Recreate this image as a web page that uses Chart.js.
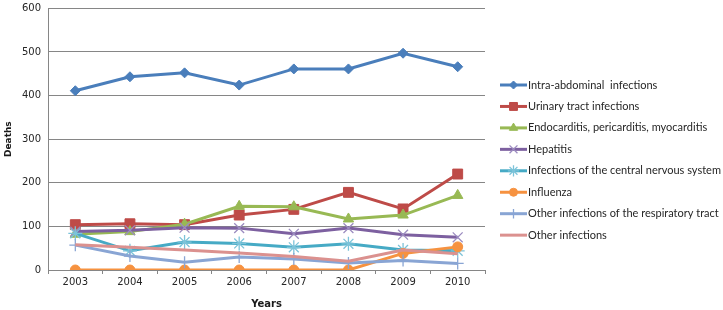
<!DOCTYPE html>
<html>
<head>
<meta charset="utf-8">
<script src="https://cdn.jsdelivr.net/npm/chart.js@4/dist/chart.umd.min.js"></script>
<style>
html,body{margin:0;padding:0;background:#fff;}
#wrap{position:relative;width:723px;height:310px;}
</style>
</head>
<body>
<div id="wrap"><canvas id="c" width="723" height="310"></canvas></div>
<script>
const years = ['2003','2004','2005','2006','2007','2008','2009','2010'];
const seriesNames = [
  'Intra-abdominal  infections',
  'Urinary tract infections',
  'Endocarditis, pericarditis, myocarditis',
  'Hepatitis',
  'Infections of the central nervous system',
  'Influenza',
  'Other infections of the respiratory tract',
  'Other infections'
];
const intraAbdominal = [411, 443, 452, 424, 461, 461, 497, 466];
const urinaryTract   = [104, 106, 104, 126, 139, 178, 140, 220];
const endocarditis   = [82, 88, 105, 146, 145, 117, 126, 171];
const hepatitis      = [88, 91, 97, 96, 83, 96, 81, 75];
const cns            = [84, 44, 64, 61, 52, 60, 46, 44];
const influenza      = [0, 0, 0, 0, 0, 0, 38, 53];
const otherResp      = [57, 32, 18, 30, 25, 16, 22, 15];
const otherInf       = [58, 52, 46, 39, 31, 20, 46, 37];
const yTicks = [0, 100, 200, 300, 400, 500, 600];

const seriesData = [intraAbdominal, urinaryTract, endocarditis, hepatitis, cns, influenza, otherResp, otherInf];
const lineColors  = ['#4A7EBB', '#BE4B48', '#98B954', '#7D60A0', '#46AAC5', '#F69240', '#89A5D4', '#DB918F'];
const markerFill  = ['#4A7EBB', '#BE4B48', '#98B954', '#9C8CC0', '#7CC3D9', '#F69240', '#89A5D4', '#DB918F'];
const markerStyle = ['rectRot', 'rect', 'triangle', 'crossRot', 'star', 'circle', 'cross', false];
const markerRadius = [5, 7, 6, 7, 7, 5, 6, 0];

const datasets = seriesData.map((d, i) => ({
  label: seriesNames[i],
  data: d,
  borderColor: lineColors[i],
  backgroundColor: markerFill[i],
  pointBackgroundColor: markerFill[i],
  pointBorderColor: markerFill[i],
  pointBorderWidth: (markerStyle[i] === 'crossRot' || markerStyle[i] === 'star' || markerStyle[i] === 'cross') ? 1.3 : 1,
  pointStyle: markerStyle[i],
  pointRadius: markerRadius[i],
  borderWidth: 3,
  tension: 0,
  order: 8 - i
}));

const legendPlugin = {
  id: 'customLegend',
  afterDraw(chart) {
    const ctx = chart.ctx;
    ctx.save();
    const x0 = 500, x1 = 527, yStart = 85, step = 21.45;
    chart.data.datasets.forEach((ds, i) => {
      const y = yStart + i * step;
      ctx.strokeStyle = ds.borderColor;
      ctx.lineWidth = 3;
      ctx.beginPath();
      ctx.moveTo(x0, y);
      ctx.lineTo(x1, y);
      ctx.stroke();
      if (ds.pointStyle) {
        const opts = {
          pointStyle: ds.pointStyle,
          radius: ds.pointRadius * 0.8,
          rotation: 0,
          borderWidth: ds.pointBorderWidth
        };
        ctx.fillStyle = ds.pointBackgroundColor;
        ctx.strokeStyle = ds.pointBorderColor;
        ctx.lineWidth = ds.pointBorderWidth;
        Chart.helpers.drawPoint(ctx, opts, (x0 + x1) / 2, y);
      }
      ctx.fillStyle = '#262626';
      ctx.font = '11px Lato';
      ctx.textBaseline = 'middle';
      ctx.textAlign = 'left';
      ctx.fillText(ds.label, x1 + 1, y);
    });
    ctx.restore();
  }
};

new Chart(document.getElementById('c'), {
  type: 'line',
  data: { labels: years, datasets: datasets },
  options: {
    responsive: false,
    animation: false,
    layout: { padding: { top: 7, right: 238, left: 3, bottom: 0 } },
    plugins: { legend: { display: false }, tooltip: { enabled: false } },
    scales: {
      x: {
        offset: true,
        grid: { offset: true, drawOnChartArea: false, color: '#868686', tickLength: 4 },
        border: { color: '#868686', width: 1 },
        ticks: { color: '#262626', font: { family: 'DejaVu Sans', size: 10 }, padding: 2, maxRotation: 0 },
        title: { display: true, text: 'Years', color: '#1a1a1a', font: { family: 'DejaVu Sans', size: 10, weight: 'bold' }, padding: { top: 2, bottom: 0 } },
        afterFit(s) { s.height = 40; }
      },
      y: {
        min: 0, max: 600,
        afterBuildTicks(s) { s.ticks = yTicks.map(v => ({ value: v })); },
        grid: { color: '#868686', drawTicks: false },
        border: { color: '#868686', width: 1 },
        ticks: { color: '#262626', font: { family: 'DejaVu Sans', size: 10 }, padding: 7 },
        title: { display: true, text: 'Deaths', color: '#1a1a1a', font: { family: 'DejaVu Sans', size: 9, weight: 'bold' }, padding: 0 },
        afterFit(s) { s.width = 45; s.paddingTop = 0; s.paddingBottom = 0; }
      }
    }
  },
  plugins: [legendPlugin]
});
</script>
</body>
</html>
